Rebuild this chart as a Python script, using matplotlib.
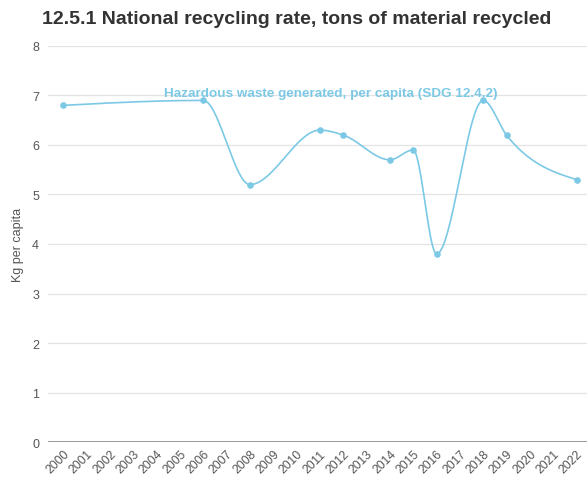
import numpy as np
import matplotlib.pyplot as plt

plt.rcParams['font.family'] = ['Liberation Sans', 'DejaVu Sans']

years = [str(y) for y in range(2000, 2023)]
point_years = [2000, 2006, 2008, 2011, 2012, 2014, 2015, 2016, 2018, 2019, 2022]
values = [6.8, 6.9, 5.2, 6.3, 6.2, 5.7, 5.9, 3.8, 6.9, 6.2, 5.3]
series_label = 'Hazardous waste generated, per capita (SDG 12.4.2)'

LINE = '#7cc9e6'


def monotone_curve(x, y, n=40):
    """monotone cubic (like d3 curveMonotoneX)"""
    x = np.asarray(x, float); y = np.asarray(y, float)
    h = np.diff(x)
    s = np.diff(y) / h
    m = np.zeros(len(x))
    for i in range(1, len(x) - 1):
        s0, s1 = s[i-1], s[i]
        p = (s0 * h[i] + s1 * h[i-1]) / (h[i-1] + h[i])
        m[i] = (np.sign(s0) + np.sign(s1)) * min(abs(s0), abs(s1), 0.5 * abs(p))
    m[0] = (3 * s[0] - m[1]) / 2
    m[-1] = (3 * s[-1] - m[-2]) / 2
    xs, ys = [], []
    for i in range(len(x) - 1):
        t = np.linspace(0, 1, n)
        h00 = 2*t**3 - 3*t**2 + 1
        h10 = t**3 - 2*t**2 + t
        h01 = -2*t**3 + 3*t**2
        h11 = t**3 - t**2
        xs.append(x[i] + t * h[i])
        ys.append(h00*y[i] + h10*h[i]*m[i] + h01*y[i+1] + h11*h[i]*m[i+1])
    return np.concatenate(xs), np.concatenate(ys)


fig = plt.figure(figsize=(5.87, 4.89), dpi=100)
ax = fig.add_axes([0.082, 0.094, 0.918, 0.81])

px = [y - 2000 for y in point_years]
cx, cy = monotone_curve(px, values)
ax.plot(cx, cy, color=LINE, lw=1.2, zorder=3)
ax.scatter(px, values, color=LINE, s=14, zorder=4)

ax.text(11.45, 6.93, series_label, color=LINE, fontsize=9.7, fontweight='bold',
        ha='center', va='bottom', zorder=5)

ax.set_xlim(-0.65, 22.45)
ax.set_ylim(0, 8)
ax.set_yticks(range(0, 9))
ax.set_xticks(range(len(years)))
ax.set_xticklabels(years, rotation=45, ha='right', rotation_mode='anchor')
ax.tick_params(axis='both', length=0, colors='#555555', labelsize=9)
ax.tick_params(axis='x', labelsize=8.7, pad=4)
ax.tick_params(axis='y', pad=6.5)

ax.grid(axis='y', color='#e3e3e3', lw=0.9)
ax.set_axisbelow(True)
for sp in ax.spines.values():
    sp.set_visible(False)
ax.axhline(0, color='#888888', lw=1.2, zorder=2)

ax.set_ylabel('Kg per capita', color='#555555', fontsize=9, labelpad=6)
fig.text(0.071, 0.96, '12.5.1 National recycling rate, tons of material recycled',
         fontsize=14.0, fontweight='bold', color='#333333', va='center')

fig.savefig('out.png', dpi=100)
